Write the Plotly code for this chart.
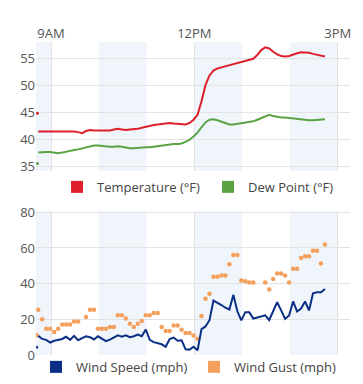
import pandas as pd
import plotly.graph_objects as go

DAY = "2024-03-01 "
# main 5-minute readings
times = pd.date_range(DAY + "08:44", periods=73, freq="5min")

temperature = [41.4, 41.4, 41.4, 41.4, 41.5, 41.5, 41.5, 41.5, 41.5, 41.4,
               41.3, 41.1, 41.5, 41.7, 41.6, 41.6, 41.7, 41.7, 41.6, 41.8,
               41.9, 41.8, 41.7, 41.8, 41.8, 41.9, 42.1, 42.3, 42.5, 42.6,
               42.7, 42.8, 42.8, 43.0, 42.9, 42.8, 42.7, 42.7, 43.0, 43.6,
               44.5, 47.0, 50.0, 51.8, 52.7, 53.1, 53.3, 53.5, 53.7, 53.9,
               54.1, 54.2, 54.4, 54.6, 54.9, 55.6, 56.5, 57.0, 56.8, 56.2,
               55.7, 55.4, 55.3, 55.4, 55.7, 55.9, 56.1, 56.1, 56.0, 55.8,
               55.6, 55.5, 55.3]

dew_point = [37.5, 37.6, 37.6, 37.6, 37.5, 37.4, 37.5, 37.7, 37.8, 38.0,
             38.1, 38.3, 38.5, 38.7, 38.8, 38.8, 38.7, 38.7, 38.6, 38.6,
             38.7, 38.6, 38.4, 38.3, 38.3, 38.4, 38.4, 38.5, 38.5, 38.6,
             38.7, 38.9, 39.0, 39.1, 39.1, 39.1, 39.2, 39.5, 39.9, 40.5,
             41.2, 42.2, 43.1, 43.6, 43.7, 43.5, 43.2, 42.9, 42.7, 42.7,
             42.8, 42.9, 43.1, 43.2, 43.3, 43.6, 43.9, 44.3, 44.5, 44.3,
             44.1, 44.0, 44.0, 43.9, 43.8, 43.7, 43.6, 43.6, 43.5, 43.5,
             43.6, 43.7, 43.7]

wind_speed = [10.7, 9.0, 8.5, 7.0, 8.0, 8.7, 9.0, 10.2, 8.5, 10.7,
              8.3, 9.5, 10.5, 10.0, 8.7, 10.5, 9.0, 7.8, 8.6, 10.0,
              11.0, 10.3, 11.0, 10.0, 10.5, 11.5, 10.5, 14.3, 8.5, 7.2,
              6.5, 6.0, 4.6, 9.0, 9.8, 8.0, 8.2, 3.2, 3.0, 4.6,
              2.6, 14.5, 16.0, 19.5, 30.5, 29.0, 28.0, 26.5, 25.5, 33.7,
              24.5, 19.4, 24.0, 24.0, 20.4, 21.0, 21.6, 22.2, 19.6, 25.0,
              29.6, 25.0, 20.2, 22.2, 30.0, 24.4, 26.0, 30.0, 25.0, 34.6,
              35.2, 35.2, 37.0]

wind_gust = [25.4, 20.1, 14.7, 14.7, 12.9, 14.7, 17.1, 17.1, 17.1, 18.8,
             18.8, None, 21.3, 25.3, 25.3, 14.7, 14.7, 14.7, 15.7, 15.7,
             22.3, 22.3, 20.5, 17.5, 15.7, 17.5, 19.0, 22.3, 22.3, 23.6,
             23.6, 15.7, 13.5, 13.5, 16.6, 16.6, 14.2, 12.3, 12.3, 10.9,
             9.1, 21.9, 31.5, 34.3, 43.9, 43.9, 44.6, 44.6, 50.9, 56.1,
             56.1, 41.7, 41.3, 40.6, 40.6, None, None, 40.6, 36.7, 42.6,
             45.7, 45.7, 44.6, 40.6, 48.3, 48.3, 54.4, 55.4, 55.4, 58.5,
             58.5, 51.3, 62.0]

# isolated first readings before the regular series
early_times = [DAY + "08:42", DAY + "08:43"]
early_temperature = [None, 44.8]
early_dew_point = [None, 35.5]
early_wind_speed = [3.7, 5.0]
early_wind_gust = [11.1, None]

tick_values = [DAY + "09:00", DAY + "12:00", DAY + "15:00"]
tick_labels = ["9AM", "12PM", "3PM"]
band_hours = [("08:00", "09:00"), ("10:00", "11:00"), ("12:00", "13:00"), ("14:00", "15:00")]

RED = "#dc1f2b"
GREEN = "#5aa345"
BLUE = "#0b2f86"
ORANGE = "#f4a05c"
BAND = "#eff5fb"
GRID = "#e3e3e3"
TICK = "#555555"
FONT = "Open Sans"

fig = go.Figure()

# top panel
fig.add_trace(go.Scatter(x=times, y=temperature, mode="lines", line=dict(color=RED, width=2),
                         xaxis="x", yaxis="y", showlegend=False, hoverinfo="skip"))
fig.add_trace(go.Scatter(x=times, y=dew_point, mode="lines", line=dict(color=GREEN, width=2),
                         xaxis="x", yaxis="y", showlegend=False, hoverinfo="skip"))
fig.add_trace(go.Scatter(x=early_times, y=early_temperature, mode="markers",
                         marker=dict(color=RED, size=3), xaxis="x", yaxis="y", showlegend=False))
fig.add_trace(go.Scatter(x=early_times, y=early_dew_point, mode="markers",
                         marker=dict(color=GREEN, size=3), xaxis="x", yaxis="y", showlegend=False))

# bottom panel
fig.add_trace(go.Scatter(x=times, y=wind_gust, mode="markers",
                         marker=dict(color=ORANGE, size=4.5), xaxis="x2", yaxis="y2",
                         showlegend=False))
fig.add_trace(go.Scatter(x=early_times, y=early_wind_gust, mode="markers",
                         marker=dict(color=ORANGE, size=4.5), xaxis="x2", yaxis="y2",
                         showlegend=False))
fig.add_trace(go.Scatter(x=times, y=wind_speed, mode="lines", line=dict(color=BLUE, width=2),
                         xaxis="x2", yaxis="y2", showlegend=False))
fig.add_trace(go.Scatter(x=early_times, y=early_wind_speed, mode="lines",
                         line=dict(color=BLUE, width=2), xaxis="x2", yaxis="y2", showlegend=False))

# legend entries (filled swatches)
for name, color, leg in [("Temperature (°F)", RED, "legend"), ("Dew Point (°F)", GREEN, "legend"),
                         ("Wind Speed (mph)", BLUE, "legend2"), ("Wind Gust (mph)", ORANGE, "legend2")]:
    fig.add_trace(go.Bar(x=[None], y=[None], name=name, marker=dict(color=color),
                         legend=leg, xaxis="x2" if leg == "legend2" else "x",
                         yaxis="y2" if leg == "legend2" else "y"))

x_range = [DAY + "08:41:10", DAY + "15:15:27"]

shapes = []
for a, b in band_hours:
    for xr, yr in [("x", "y domain"), ("x2", "y2 domain")]:
        shapes.append(dict(type="rect", xref=xr, yref=yr, x0=DAY + a, x1=DAY + b, y0=0, y1=1,
                           fillcolor=BAND, line=dict(width=0), layer="below"))

axis_common = dict(showgrid=True, gridcolor=GRID, gridwidth=1, zeroline=False, showline=False,
                   ticks="", automargin=False,
                   tickfont=dict(family=FONT, size=13, color=TICK))

legend_font = dict(family=FONT, size=13, color="#444444")

# the page body adds an 8px offset, so the figure is 8px smaller than the window
fig.update_layout(
    template="none",
    width=355, height=376,
    margin=dict(l=28, r=13, t=34, b=29, autoexpand=False),
    paper_bgcolor="white", plot_bgcolor="rgba(0,0,0,0)",
    font=dict(family=FONT, size=13, color="#444444"),
    shapes=shapes,
    xaxis=dict(axis_common, type="date", range=x_range, domain=[0, 1], anchor="y", side="top",
               tickvals=tick_values, ticktext=tick_labels, showticklabels=True),
    yaxis=dict(axis_common, range=[34.1, 58], domain=[0.588, 1.0], anchor="x",
               tickvals=[35, 40, 45, 50, 55]),
    xaxis2=dict(axis_common, type="date", range=x_range, domain=[0, 1], anchor="y2",
                tickvals=tick_values, showticklabels=False),
    yaxis2=dict(axis_common, range=[0, 80.7], domain=[0, 0.46], anchor="x2",
                tickvals=[0, 20, 40, 60, 80]),
    legend=dict(orientation="h", x=0.067, xanchor="left", y=0.537, yanchor="middle",
                bgcolor="rgba(0,0,0,0)", font=legend_font, entrywidth=106,
                itemclick=False, itemdoubleclick=False),
    legend2=dict(orientation="h", x=0.0, xanchor="left", y=-0.038, yanchor="middle",
                 bgcolor="rgba(0,0,0,0)", font=legend_font, entrywidth=113,
                 itemclick=False, itemdoubleclick=False),
    bargap=0,
)

fig.write_html("out.html")
